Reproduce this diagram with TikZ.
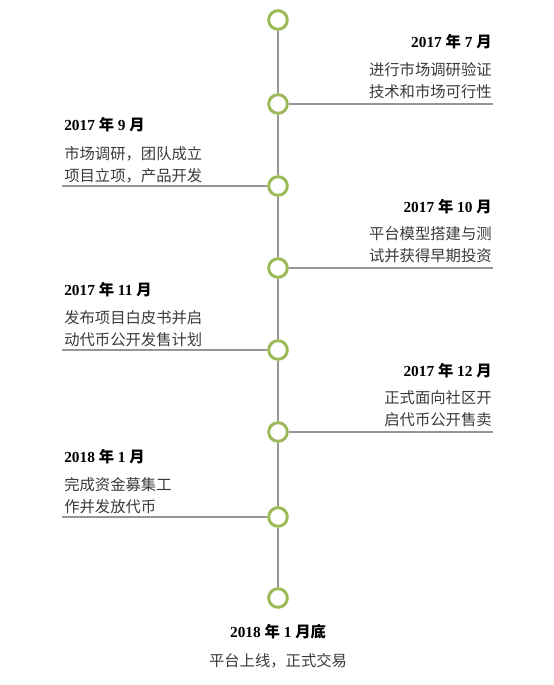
\documentclass[tikz,border=0pt]{standalone}
\usepackage{fontspec}
\setmainfont{Liberation Serif}
\newfontfamily\cjk{Noto Sans CJK SC}
\usetikzlibrary{positioning}
\definecolor{stagegreen}{HTML}{9BBB59}
\definecolor{axisgray}{HTML}{969696}
\definecolor{descgray}{HTML}{3A3A3A}
\newcommand\yr[2]{{\bfseries #1 {\cjk\bfseries 年} #2 {\cjk\bfseries 月}}}
\tikzstyle{stage} = [circle, draw=stagegreen, line width=2.2pt, fill=white, minimum size=14pt, inner sep=0pt]
\tikzstyle{axis} = [draw=axisgray, line width=1.1pt]
\tikzstyle{date} = [inner sep=0pt, text=black, font=\fontsize{11.5}{14}\selectfont]
\tikzstyle{desc} = [inner sep=0pt, text=descgray, font=\cjk\fontsize{11.5}{16.5}\selectfont]

\begin{document}
\begin{tikzpicture}[x=0.75pt, y=-0.75pt]
	    \useasboundingbox (0,0) rectangle (553,685);

	    % the axis
	    \node[stage] (c1) at (278,20) {};
	    \node[stage] (c2) at (278,104) {};
	    \node[stage] (c3) at (278,186) {};
	    \node[stage] (c4) at (278,268) {};
	    \node[stage] (c5) at (278,350) {};
	    \node[stage] (c6) at (278,432) {};
	    \node[stage] (c7) at (278,517) {};
	    \node[stage] (c8) at (278,598) {};
	    \draw[axis] (c1)--(c2) (c2)--(c3) (c3)--(c4) (c4)--(c5) (c5)--(c6) (c6)--(c7) (c7)--(c8);

	    % right side
	    \coordinate (e2) at (493,104);
	    \coordinate (e4) at (493,268);
	    \coordinate (e6) at (493,432);
	    \draw[axis] (c2)--(e2);
	    \draw[axis] (c4)--(e4);
	    \draw[axis] (c6)--(e6);

	    \node[date, anchor=east] (d2) at (492,42) {\yr{2017}{7}};
	    \node[desc, anchor=east, align=right] (t2) at (492,81) {进行市场调研验证\\技术和市场可行性};
	    \node[date, anchor=east] (d4) at (492,207) {\yr{2017}{10}};
	    \node[desc, anchor=east, align=right] (t4) at (492,245) {平台模型搭建与测\\试并获得早期投资};
	    \node[date, anchor=east] (d6) at (492,371) {\yr{2017}{12}};
	    \node[desc, anchor=east, align=right] (t6) at (492,409) {正式面向社区开\\启代币公开售卖};

	    % left side
	    \coordinate (e3) at (62,186);
	    \coordinate (e5) at (62,350);
	    \coordinate (e7) at (62,517);
	    \draw[axis] (e3)--(c3);
	    \draw[axis] (e5)--(c5);
	    \draw[axis] (e7)--(c7);

	    \node[date, anchor=west] (d3) at (64,125) {\yr{2017}{9}};
	    \node[desc, anchor=west, align=left] (t3) at (64,165) {市场调研，团队成立\\项目立项，产品开发};
	    \node[date, anchor=west] (d5) at (64,290) {\yr{2017}{11}};
	    \node[desc, anchor=west, align=left] (t5) at (64,329) {发布项目白皮书并启\\动代币公开发售计划};
	    \node[date, anchor=west] (d7) at (64,457) {\yr{2018}{1}};
	    \node[desc, anchor=west, align=left] (t7) at (64,496) {完成资金募集工\\作并发放代币};

	    % the end
	    \node[date] (d8) at (278,632) {{\bfseries 2018 {\cjk\bfseries 年} 1 {\cjk\bfseries 月底}}};
	    \node[desc] (t8) at (278,661) {平台上线，正式交易};
	\end{tikzpicture}
\end{document}
